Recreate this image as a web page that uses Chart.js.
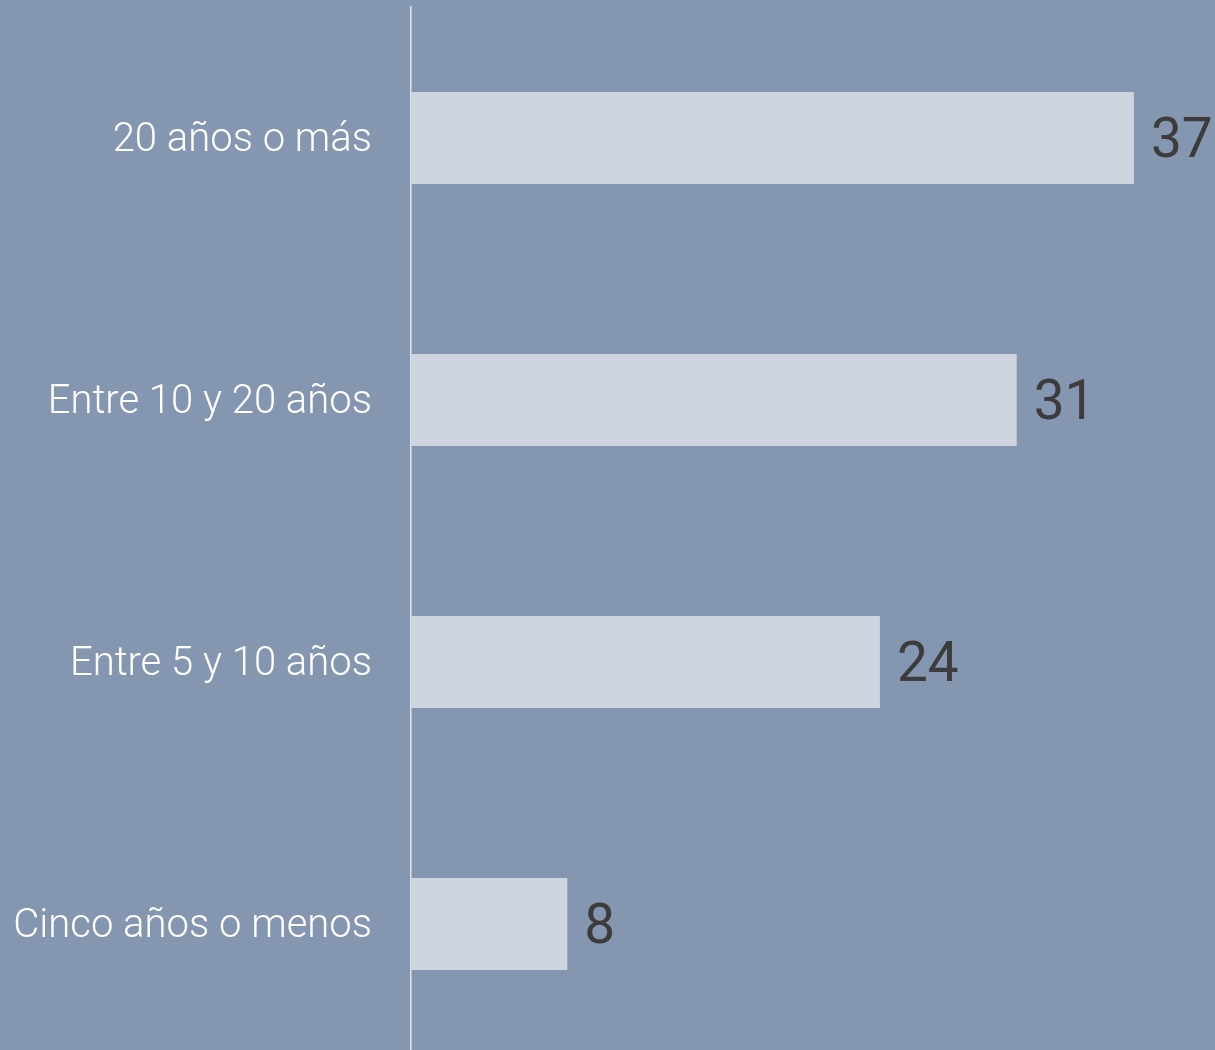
<!DOCTYPE html>
<html>
<head>
<meta charset="utf-8">
<script src="https://cdn.jsdelivr.net/npm/chart.js@4.4.1/dist/chart.umd.min.js"></script>
<style>
    html, body { margin: 0; padding: 0; background: #8596b0; overflow: hidden; }
    #box { width: 1215px; height: 1060px; position: relative; }
</style>
</head>
<body>
<div id="box"><canvas id="chart1"></canvas></div>
<script>
var categories = ["20 años o más", "Entre 10 y 20 años", "Entre 5 y 10 años", "Cinco años o menos"];
var values = [37, 31, 24, 8];
var xMin = 0;
var xMax = 41.15;

// fondo del lienzo
var bgPlugin = {
    id: 'bg',
    beforeDraw: function (chart) {
        var ctx = chart.ctx;
        ctx.save();
        ctx.fillStyle = '#8596b0';
        ctx.fillRect(0, 0, chart.width, chart.height);
        ctx.restore();
    }
};

// numeros a la derecha de cada barra
var valuePlugin = {
    id: 'values',
    afterDatasetsDraw: function (chart) {
        var ctx = chart.ctx;
        var meta = chart.getDatasetMeta(0);
        ctx.save();
        ctx.font = '400 55px Roboto';
        ctx.fillStyle = '#3c3c3c';
        ctx.textAlign = 'left';
        ctx.textBaseline = 'middle';
        meta.data.forEach(function (bar, i) {
            ctx.fillText(String(values[i]), bar.x + 17, bar.y + 5);
        });
        ctx.restore();
    }
};

var config = {
    type: 'bar',
    data: {
        labels: categories,
        datasets: [{
            data: values,
            backgroundColor: '#cfd5df',
            borderWidth: 0,
            categoryPercentage: 0.352,
            barPercentage: 1
        }]
    },
    options: {
        indexAxis: 'y',
        responsive: true,
        maintainAspectRatio: false,
        animation: false,
        layout: { padding: { top: 7, bottom: 5, left: 0, right: 0 } },
        plugins: {
            legend: { display: false },
            tooltip: { enabled: false }
        },
        scales: {
            x: {
                display: false,
                min: xMin,
                max: xMax
            },
            y: {
                grid: { display: false, drawTicks: false },
                border: { display: true, color: '#dfe3ea', width: 1.5 },
                ticks: {
                    color: '#ffffff',
                    padding: 39,
                    labelOffset: 3,
                    font: { family: 'Roboto', weight: 300, size: 40 }
                },
                afterFit: function (scale) {
                    scale.width = 411;
                    scale.paddingTop = 0;
                    scale.paddingBottom = 0;
                }
            }
        }
    },
    plugins: [bgPlugin, valuePlugin]
};

window.myBar = new Chart(document.getElementById("chart1"), config);
</script>
</body>
</html>
